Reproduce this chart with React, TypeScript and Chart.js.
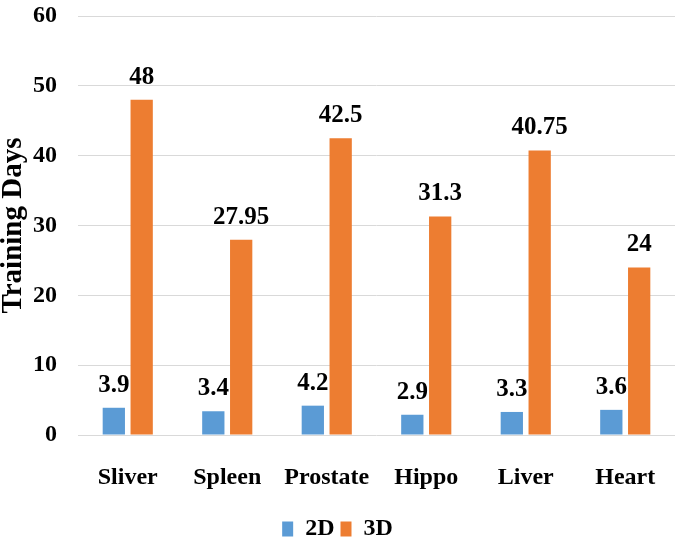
import React, { useEffect, useRef } from "react";
import { Chart, registerables } from "chart.js";

Chart.register(...registerables);

const categories = ["Sliver", "Spleen", "Prostate", "Hippo", "Liver", "Heart"];
const values2D = [3.9, 3.4, 4.2, 2.9, 3.3, 3.6];
const values3D = [48, 27.95, 42.5, 31.3, 40.75, 24];
const labels2D = ["3.9", "3.4", "4.2", "2.9", "3.3", "3.6"];
const labels3D = ["48", "27.95", "42.5", "31.3", "40.75", "24"];
const seriesNames = ["2D", "3D"];

const FONT = "'Liberation Serif', 'Times New Roman', serif";

const dataLabelPlugin = {
  id: "dataLabels",
  afterDatasetsDraw(chart: any) {
    const ctx = chart.ctx;
    const texts = [labels2D, labels3D];
    ctx.save();
    ctx.font = `bold 25px ${FONT}`;
    ctx.fillStyle = "#000";
    ctx.textAlign = "center";
    ctx.textBaseline = "alphabetic";
    chart.data.datasets.forEach((ds: any, di: number) => {
      const meta = chart.getDatasetMeta(di);
      meta.data.forEach((bar: any, i: number) => {
        ctx.fillText(texts[di][i], bar.x, bar.y - 16);
      });
    });
    ctx.restore();
  },
};

export default function App() {
  const ref = useRef<HTMLCanvasElement>(null);
  useEffect(() => {
    if (!ref.current) return;
    const chart = new Chart(ref.current, {
      type: "bar",
      data: {
        labels: categories,
        datasets: [
          {
            label: seriesNames[0],
            data: values2D,
            backgroundColor: "#5B9BD5",
            categoryPercentage: 0.56,
            barPercentage: 0.8,
          },
          {
            label: seriesNames[1],
            data: values3D,
            backgroundColor: "#ED7D31",
            categoryPercentage: 0.56,
            barPercentage: 0.8,
          },
        ],
      },
      options: {
        animation: false,
        responsive: false,
        maintainAspectRatio: false,
        layout: { padding: { top: 0, right: 10, left: 0, bottom: 0 } },
        plugins: {
          legend: {
            position: "bottom",
            labels: {
              boxWidth: 11,
              boxHeight: 15,
              padding: 6,
              color: "#000",
              font: { family: FONT, weight: "bold", size: 24 },
            },
          },
          tooltip: { enabled: false },
        },
        scales: {
          x: {
            grid: { display: false },
            border: { display: false },
            afterFit: (scale: any) => {
              scale.height = 76;
            },
            ticks: {
              color: "#000",
              padding: 20,
              font: { family: FONT, weight: "bold", size: 24 },
            },
          },
          y: {
            min: 0,
            max: 60,
            afterFit: (scale: any) => {
              scale.paddingTop = 16;
              scale.width = 78;
            },
            ticks: {
              stepSize: 10,
              color: "#000",
              padding: 21,
              font: { family: FONT, weight: "bold", size: 24 },
            },
            grid: { color: "#d9d9d9", drawTicks: false },
            border: { display: false },
            title: {
              display: true,
              text: "Training Days",
              color: "#000",
              font: { family: FONT, weight: "bold", size: 29 },
              padding: { top: -4, bottom: 0 },
            },
          },
        },
      },
      plugins: [dataLabelPlugin],
    });
    return () => chart.destroy();
  }, []);
  return (
    <div style={{ position: "fixed", left: 0, top: 0, width: 685, height: 551, background: "#fff" }}>
      <canvas ref={ref} width={685} height={551} />
    </div>
  );
}
